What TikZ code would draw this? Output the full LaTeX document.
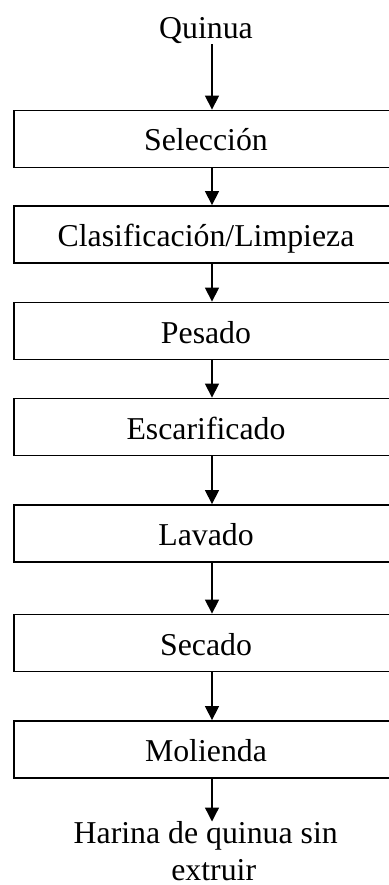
\documentclass[tikz,border=0pt]{standalone}
\usepackage{fontspec}
\setmainfont{Liberation Serif}
\usetikzlibrary{arrows.meta}
\begin{document}
\begin{tikzpicture}[x=1pt,y=-1pt,
  txt/.style={font=\fontsize{31.8pt}{37pt}\selectfont},
  stepbox/.style={draw, line width=1.8pt, minimum width=384pt, minimum height=57pt,
    inner sep=0pt, text height=25pt, text depth=1pt, txt},
  lbl/.style={inner sep=0pt, outer sep=0pt, txt},
  arr/.style={line width=1.3pt, -{Triangle[length=14pt,width=14pt]}}]
\useasboundingbox (0,0) rectangle (388,885);
\node[lbl, anchor=base] (q) at (206,39) {Quinua};
\node[stepbox] (b1) at (206,139) {Selección};
\node[stepbox] (b2) at (206,234.5) {Clasificación/Limpieza};
\node[stepbox] (b3) at (206,331) {Pesado};
\node[stepbox] (b4) at (206,427) {Escarificado};
\node[stepbox] (b5) at (206,533.5) {Lavado};
\node[stepbox] (b6) at (206,643) {Secado};
\node[stepbox] (b7) at (206,749.5) {Molienda};
\node[lbl, anchor=north, align=center] (h) at (205.7,821.5) {Harina de quinua sin\\\hspace*{16pt}extruir};
\draw[arr] ([xshift=6pt]q.south) -- ([xshift=6pt]b1.north);
\draw[arr] ([xshift=6pt]b1.south) -- ([xshift=6pt]b2.north);
\draw[arr] ([xshift=6pt]b2.south) -- ([xshift=6pt]b3.north);
\draw[arr] ([xshift=6pt]b3.south) -- ([xshift=6pt]b4.north);
\draw[arr] ([xshift=6pt]b4.south) -- ([xshift=6pt]b5.north);
\draw[arr] ([xshift=6pt]b5.south) -- ([xshift=6pt]b6.north);
\draw[arr] ([xshift=6pt]b6.south) -- ([xshift=6pt]b7.north);
\draw[arr] ([xshift=6pt]b7.south) -- ([xshift=6pt]b7.south |- h.north);
\end{tikzpicture}
\end{document}
